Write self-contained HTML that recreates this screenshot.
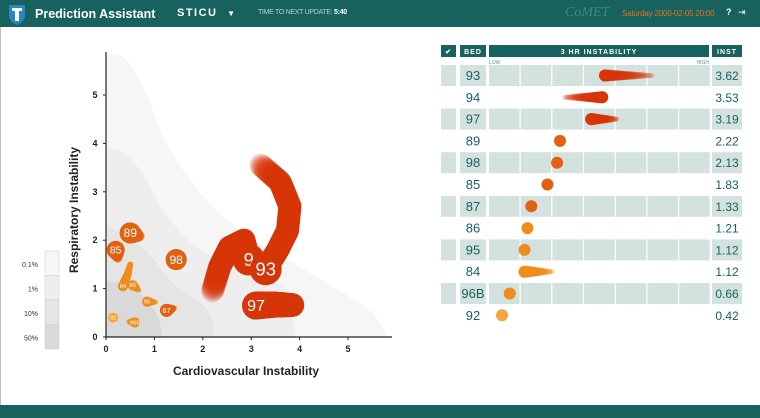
<!DOCTYPE html>
<html><head><meta charset="utf-8"><style>
body{margin:0;width:760px;height:418px;overflow:hidden;background:#fff;font-family:"Liberation Sans",sans-serif;position:relative}
#hdr{position:absolute;left:0;top:0;width:760px;height:27px;background:#17625e}
#ftr{position:absolute;left:0;top:405px;width:760px;height:13px;background:#17625e}
#lb{position:absolute;left:0;top:27px;width:1px;height:378px;background:#bbb}
.t{position:absolute;white-space:nowrap}
</style></head><body>
<div id="hdr">
<svg class="t" style="left:7px;top:3px" width="20" height="22"><path d="M2 2h16v10c0 5-4 8-8 10c-4-2-8-5-8-10z" fill="#2b86c5"/><path d="M5 5h10v3h-3v10h-4v-10h-3z" fill="#fff"/></svg>
<div class="t" style="left:35px;top:7px;color:#fff;font-weight:bold;font-size:12.5px">Prediction Assistant</div>
<div class="t" style="left:177px;top:7px;color:#fff;font-weight:bold;font-size:11px;letter-spacing:1.5px">STICU <span style="font-size:8px;margin-left:5px">▼</span></div>
<div class="t" style="left:258px;top:9px;color:#bcd;font-size:7px;letter-spacing:-0.3px">TIME TO NEXT UPDATE: <b style="color:#fff">5:40</b></div>
<div class="t" style="left:565px;top:5px;color:#3f8a85;font-size:14px;font-style:italic;font-family:'Liberation Serif',serif">CoMET</div>
<div class="t" style="left:622px;top:9px;color:#e8701a;font-size:8px;letter-spacing:-0.2px">Saturday 2000-02-05 20:00</div>
<div class="t" style="left:726px;top:7px;color:#fff;font-size:9px;font-weight:bold">?</div>
<div class="t" style="left:738px;top:7px;color:#fff;font-size:9px">⇥</div>
</div>
<div id="lb"></div>
<div id="ftr"></div>
<svg id="chart" class="t" style="left:0;top:27px" width="430" height="378"></svg>
<svg id="tbl" class="t" style="left:430px;top:40px" width="330" height="300"></svg>
<script>
const NS="http://www.w3.org/2000/svg";
const xTicks=[0,1,2,3,4,5], yTicks=[0,1,2,3,4,5];
const contourLevels=["0.1%","1%","10%","50%"];
const contourFill=["#f6f6f6","#eeeeee","#e5e5e5","#d9d9d9"];
const c01=[[0,5.85],[0.4,5.75],[0.8,5.1],[1.2,4.1],[1.7,3.3],[2.3,2.6],[3,2.05],[4,1.45],[5,0.85],[5.55,0.45],[5.8,0]];
const c1=[[0,3.9],[0.4,3.8],[0.8,3.3],[1.2,2.6],[1.7,2.0],[2.4,1.55],[3.2,1.25],[3.7,1.0],[3.85,0.5],[3.9,0]];
const c10=[[0,2.25],[0.4,2.15],[0.9,1.7],[1.4,1.1],[1.9,0.75],[2.15,0.45],[2.25,0]];
const c50=[[0,1.15],[0.4,1.1],[0.75,0.85],[1.0,0.55],[1.12,0.25],[1.15,0]];
const beds=["93","94","97","89","98","85","87","86","95","84","96B","92"];
const inst=[3.62,3.53,3.19,2.22,2.13,1.83,1.33,1.21,1.12,1.12,0.66,0.42];
const instTail=[5.08,2.37,3.99,2.22,2.13,1.83,1.33,1.21,1.12,1.98,0.66,0.42];
const cvX=[3.3,2.95,3.1,0.5,1.45,0.2,1.25,0.55,0.85,0.35,0.6,0.15];
const respY=[1.4,1.6,0.65,2.15,1.6,1.8,0.55,1.07,0.73,1.05,0.3,0.4];
const trailX=[[3.55,3.75,3.8,3.6,3.2],[2.85,2.55,2.35,2.2],[3.5,3.85],[0.72],[1.38],[0.25],[1.42],[0.7],[1.05],[0.45,0.5,0.5],[0.45],[]];
const trailY=[[1.8,2.2,2.7,3.2,3.55],[2.0,1.85,1.45,0.95],[0.67,0.66],[2.07],[1.65],[1.6],[0.6],[0.95],[0.72],[1.3,1.5,1.5],[0.32],[]];
const colors={"93":"#d63508","94":"#d63508","97":"#d63508"};
function col(i){if(colors[beds[i]])return colors[beds[i]];if(inst[i]>=1.3)return"#e2600f";if(inst[i]>=0.6)return"#f08c1c";return"#f5a33a";}
const X=v=>106+v*48.4, Y=v=>310-v*48.4;
const ch=document.getElementById('chart');
function mk(p,tag,a){const e=document.createElementNS(NS,tag);for(const k in a)e.setAttribute(k,a[k]);p.appendChild(e);return e;}
function smooth(c){const P=c.map(p=>[X(p[0]),Y(p[1])]);let d="M"+X(0)+","+Y(0)+" L"+P[0][0]+","+P[0][1];
for(let i=0;i<P.length-1;i++){const p0=P[Math.max(i-1,0)],p1=P[i],p2=P[i+1],p3=P[Math.min(i+2,P.length-1)];
d+=" C"+(p1[0]+(p2[0]-p0[0])/6)+","+(p1[1]+(p2[1]-p0[1])/6)+" "+(p2[0]-(p3[0]-p1[0])/6)+","+(p2[1]-(p3[1]-p1[1])/6)+" "+p2[0]+","+p2[1];}
return d+"Z";}
[c01,c1,c10,c50].forEach((c,i)=>{
const e=mk(ch,'path',{d:smooth(c),fill:contourFill[i]});

});
contourLevels.forEach((l,i)=>{const r=mk(ch,'rect',{x:45,y:224+i*24.5,width:14,height:24.5,fill:contourFill[i],stroke:'#ccc','stroke-width':0.5});


const t=mk(ch,'text',{x:38,y:240+i*24.5,'text-anchor':'end','font-size':7,fill:'#333'});t.textContent=l;

});
mk(ch,'path',{d:"M106,25V310H392",stroke:'#222',fill:'none','stroke-width':1.2});
xTicks.forEach(v=>{mk(ch,'line',{x1:X(v),x2:X(v),y1:310,y2:313,stroke:'#222'});const t=mk(ch,'text',{x:X(v),y:325,'text-anchor':'middle','font-size':9,'font-weight':'bold',fill:'#222'});t.textContent=v;

});
yTicks.forEach(v=>{mk(ch,'line',{x1:103,x2:106,y1:Y(v),y2:Y(v),stroke:'#222'});const t=mk(ch,'text',{x:95,y:Y(v)+3,'text-anchor':'middle','font-size':9,'font-weight':'bold',fill:'#222'});t.textContent=v;

});
let t=mk(ch,'text',{x:246,y:348,'text-anchor':'middle','font-size':12,'font-weight':'bold',fill:'#222'});t.textContent="Cardiovascular Instability";

t=mk(ch,'text',{x:78,y:183,'text-anchor':'middle','font-size':12,'font-weight':'bold',fill:'#222',transform:'rotate(-90 78 183)'});t.textContent="Respiratory Instability";

function rad(i){const v=inst[i];return v>3?(beds[i]=="97"?14:16):v>2?10.5:v>1.7?9:v>1.3?6.5:5;}
const order=[11,10,9,7,8,6,5,4,3,2,1,0];
order.forEach(i=>{const g=mk(ch,'g',{});


const r=rad(i),c=col(i);
const px=[cvX[i]].concat(trailX[i]),py=[respY[i]].concat(trailY[i]);
const n=px.length-1;
if(n>0){for(let s=n*14;s>=0;s--){const f=s/14,k=Math.min(Math.floor(f),n-1),u=f-k;
const x=px[k]+(px[k+1]-px[k])*u,y=py[k]+(py[k+1]-py[k])*u;const fade=f/n;
const big=r>12;
const op=big?(beds[i]=="97"?1:(fade<0.6?1:1-(fade-0.6)*2)):(1-0.85*fade);
mk(g,'circle',{cx:X(x),cy:Y(y),r:big?r*(beds[i]=="97"?(1-0.15*fade):0.72):r*(1-0.6*fade),fill:c,opacity:Math.max(op,0.15)});}}
mk(g,'circle',{cx:X(cvX[i]),cy:Y(respY[i]),r:r,fill:c});
const tt=mk(g,'text',{x:X(cvX[i]),y:Y(respY[i])+r*0.4,'text-anchor':'middle','font-size':r*1.15,fill:'#fff'});tt.textContent=beds[i]=="94"?"9":beds[i];});
const tb=document.getElementById('tbl');
const BX=v=>58.5+v*32.2;
function hdr(x,w,txt,nm){const r=mk(tb,'rect',{x:x,y:5,width:w,height:12,fill:'#17625e'});
const t=mk(tb,'text',{x:x+w/2,y:14,'text-anchor':'middle','font-size':7,'font-weight':'bold',fill:'#fff','letter-spacing':1});t.textContent=txt;}
hdr(11,15,"✔","select-all-header");hdr(30,26,"BED","bed-header");hdr(59,220,"3 HR INSTABILITY","instability-header");hdr(282,30,"INST","inst-header");
let tx=mk(tb,'text',{x:59,y:24,'font-size':5,fill:'#4a9a95'});tx.textContent="LOW";
tx=mk(tb,'text',{x:279,y:24,'text-anchor':'end','font-size':5,fill:'#4a9a95'});tx.textContent="HIGH";
beds.forEach((b,i)=>{const y=25+i*21.8;const g=mk(tb,'g',{});


if(i%2==0){mk(g,'rect',{x:11,y:y,width:15,height:21,fill:'#d3e2df'});mk(g,'rect',{x:30,y:y,width:26,height:21,fill:'#d3e2df'});
for(let k=0;k<7;k++)mk(g,'rect',{x:59+k*31.7,y:y,width:30.5,height:21,fill:'#d3e2df'});
mk(g,'rect',{x:282,y:y,width:30,height:21,fill:'#d3e2df'});}
let t=mk(g,'text',{x:43,y:y+15,'text-anchor':'middle','font-size':13,fill:'#17625e'});t.textContent=b;
t=mk(g,'text',{x:297,y:y+15,'text-anchor':'middle','font-size':12,fill:'#17625e'});t.textContent=inst[i].toFixed(2);
const c=col(i),h=BX(inst[i]),e=BX(instTail[i]),cy=y+10.5,N=24;
if(e!=h){for(let s=N;s>=0;s--){const u=s/N,x=h+(e-h)*u;mk(g,'circle',{cx:x,cy:cy,r:6-3.5*u,fill:c,opacity:1-0.8*u});}}
mk(g,'circle',{cx:h,cy:cy,r:6,fill:c});});
</script>
</body></html>
